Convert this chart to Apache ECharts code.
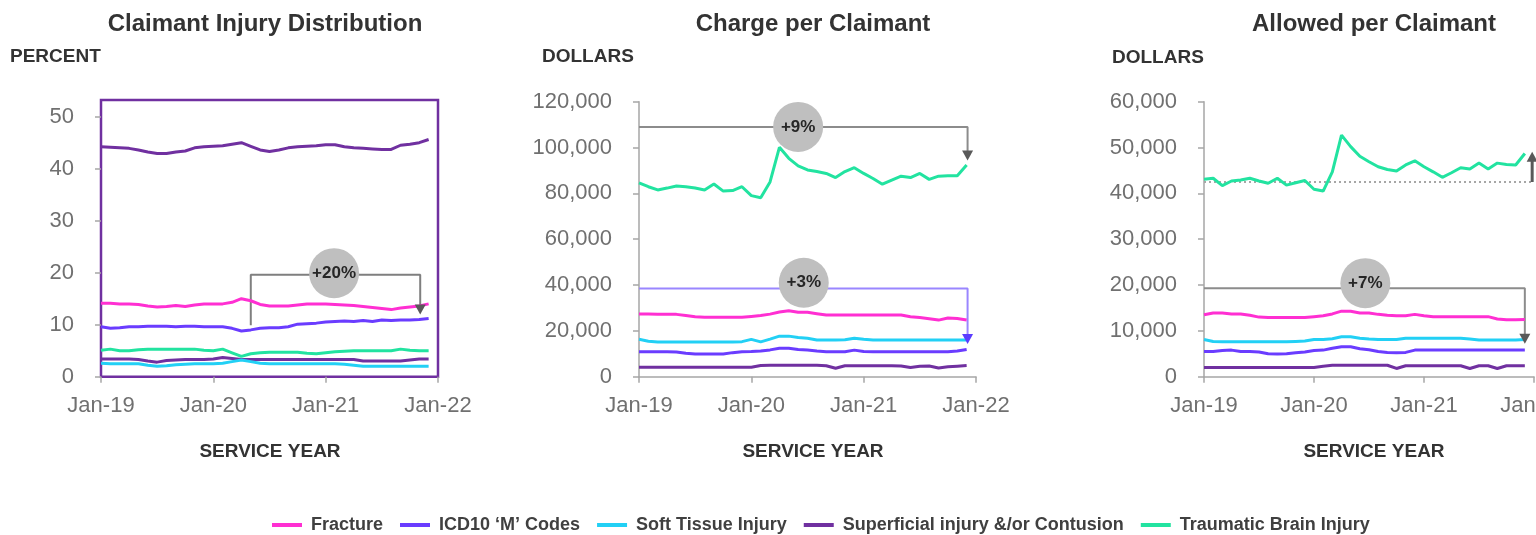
<!DOCTYPE html>
<html>
<head>
<meta charset="utf-8">
<script src="https://cdn.jsdelivr.net/npm/echarts@6/dist/echarts.min.js"></script>
<style>html,body{margin:0;padding:0;background:#fff;}#c{width:1536px;height:535px;}</style>
</head>
<body>
<div id="c"></div>
<script>
// ---- Data ----
const xTickLabels = ['Jan-19', 'Jan-20', 'Jan-21', 'Jan-22'];
const pctTicks = [0, 10, 20, 30, 40, 50];
const chargeTicks = [0, 20000, 40000, 60000, 80000, 100000, 120000];
const allowedTicks = [0, 10000, 20000, 30000, 40000, 50000, 60000];
const legendNames = ['Fracture', 'ICD10 \u2018M\u2019 Codes', 'Soft Tissue Injury', 'Superficial injury &/or Contusion', 'Traumatic Brain Injury'];

// Claimant Injury Distribution (percent), monthly Jan-19 .. Dec-21
const pctFracture = [14.1,14.1,14.0,14.0,13.9,13.6,13.4,13.5,13.7,13.5,13.8,14.0,14.0,14.0,14.3,15.0,14.6,13.9,13.6,13.6,13.6,13.8,14.0,14.0,14.0,13.9,13.8,13.7,13.5,13.3,13.1,12.9,13.2,13.4,13.6,14.0];
const pctIcd = [9.6,9.3,9.4,9.6,9.6,9.7,9.7,9.7,9.6,9.7,9.7,9.6,9.6,9.6,9.3,8.8,9.0,9.3,9.4,9.4,9.6,10.1,10.2,10.3,10.5,10.6,10.7,10.6,10.8,10.6,10.9,10.8,10.9,10.9,11.0,11.2];
const pctSoft = [2.6,2.5,2.5,2.5,2.5,2.2,2.0,2.1,2.3,2.4,2.5,2.5,2.5,2.6,2.9,3.2,2.9,2.6,2.5,2.5,2.5,2.5,2.5,2.5,2.5,2.5,2.4,2.2,2.0,2.0,2.0,2.0,2.0,2.0,2.0,2.0];
const pctSuperficial = [44.2,44.1,44.0,43.9,43.6,43.2,42.9,42.9,43.2,43.4,44.0,44.2,44.3,44.4,44.7,45.0,44.3,43.6,43.3,43.6,44.0,44.2,44.3,44.4,44.6,44.6,44.2,44.0,43.9,43.8,43.7,43.7,44.5,44.7,45.0,45.6];
const pctTbi = [5.1,5.3,5.0,5.0,5.2,5.3,5.3,5.3,5.3,5.3,5.3,5.1,5.0,5.3,4.6,3.9,4.4,4.6,4.7,4.7,4.7,4.7,4.5,4.4,4.6,4.8,4.9,5.0,5.0,5.0,5.0,5.0,5.3,5.1,5.0,5.0];
const pctOther = [3.4,3.4,3.4,3.4,3.3,3.0,2.8,3.1,3.2,3.3,3.3,3.3,3.4,3.7,3.5,3.3,3.3,3.3,3.3,3.3,3.3,3.3,3.3,3.3,3.3,3.3,3.3,3.3,3.0,3.0,3.0,3.0,3.0,3.2,3.4,3.4];

// Charge per Claimant (dollars)
const chgFracture = [27400,27400,27300,27300,27200,26700,26200,25900,25900,25900,25900,25900,26300,26700,27300,28200,28800,28100,28100,27500,26900,26900,26900,26900,26900,26900,26900,26900,26900,26200,25800,25300,24700,25600,25400,24700];
const chgIcd = [10900,10900,10900,10900,10800,10200,9900,9900,9900,9900,10500,10900,11000,11200,11700,12400,12400,11900,11600,11200,10900,10900,10900,11600,11000,10900,10900,10900,10900,10900,10900,10900,10900,10900,11200,11900];
const chgSoft = [16300,15500,15100,15100,15100,15100,15100,15100,15100,15100,15100,15300,16300,15200,16400,17700,17700,17100,16800,16000,16000,16000,16100,16800,16300,16000,16000,16000,16000,16000,16000,16000,16000,16000,16000,16000];
const chgSuperficial = [4100,4100,4100,4100,4100,4100,4100,4100,4100,4100,4100,4100,4100,4900,5000,5000,5000,5000,5000,5000,4800,3700,4800,4800,4800,4800,4800,4800,4700,4000,4600,4700,3800,4300,4600,4900];
const chgTbi = [84600,82900,81500,82300,83200,82900,82300,81500,84100,81000,81200,82900,79000,78100,85000,100100,95300,92000,90200,89500,88700,86900,89500,91200,88700,86500,84000,85800,87500,86900,88700,86100,87500,87700,87700,92400];

// Allowed per Claimant (dollars)
const alwFracture = [13500,13900,13900,13700,13700,13400,13000,12900,12900,12900,12900,12900,13100,13300,13700,14300,14300,13900,13900,13600,13400,13300,13300,13600,13300,13100,13100,13100,13100,13100,13100,13100,12600,12400,12400,12500];
const alwIcd = [5500,5500,5700,5800,5500,5500,5400,5000,4950,5000,5200,5400,5700,5800,6200,6550,6550,6100,5900,5500,5300,5200,5300,5800,5800,5800,5800,5800,5800,5800,5800,5800,5800,5800,5800,5800];
const alwSoft = [8100,7700,7600,7600,7600,7600,7600,7600,7600,7600,7700,7800,8100,8100,8300,8700,8700,8400,8200,8100,8100,8100,8400,8400,8400,8400,8400,8400,8400,8200,8000,8000,8000,8000,8000,8100];
const alwSuperficial = [2000,2000,2000,2000,2000,2000,2000,2000,2000,2000,2000,2000,2000,2300,2500,2500,2500,2500,2500,2500,2500,1800,2400,2400,2400,2400,2400,2400,2400,1800,2400,2400,1800,2400,2400,2400];
const alwTbi = [43100,43300,41700,42700,42900,43300,42700,42200,43300,41800,42300,42800,40900,40500,44700,52700,50200,48100,46900,45800,45200,44900,46200,47100,45800,44700,43500,44500,45600,45300,46600,45300,46600,46300,46200,48700];

// Annotations (data coordinates: [month index, value])
const pctBracket = [[16, 9.9], [16, 19.6], [34.1, 19.6], [34.1, 12.9]];
const pctBadge = [24.9, 19.9, '+20%'];
const chgBracketTop = [[0, 109000], [35.1, 109000], [35.1, 96500]];
const chgBadgeTop = [17.0, 109000, '+9%'];
const chgBracketLow = [[0, 38500], [35.1, 38500], [35.1, 16500]];
const chgBadgeLow = [17.6, 41000, '+3%'];
const alwBracket = [[0, 19300], [35.0, 19300], [35.0, 8300]];
const alwBadge = [17.6, 20400, '+7%'];
const alwBaseline = [[0, 42500], [36, 42500]];
const alwUpArrow = [[35.8, 42500], [35.8, 48000]];

// ---- Styling ----
const FONT = '"Liberation Sans", Arial, sans-serif';
const colors = {
  'Fracture': '#ff2fd2',
  'ICD10 \u2018M\u2019 Codes': '#6a3cff',
  'Soft Tissue Injury': '#22d0f5',
  'Superficial injury &/or Contusion': '#7030a0',
  'Traumatic Brain Injury': '#22e3a0'
};
const axisGray = '#a6a6a6';
const labelGray = '#707070';

function lineSeries(name, arr, k, color) {
  return {
    name: name, type: 'line', xAxisIndex: k, yAxisIndex: k,
    data: arr.map((v, i) => [i, v]),
    showSymbol: false, symbol: 'none', smooth: false,
    lineStyle: { color: color || colors[name], width: 3 },
    itemStyle: { color: color || colors[name] },
    emphasis: { disabled: true }, z: 3
  };
}
function bracketSeries(k, pts, color, arrowColor, up) {
  const tip = pts[pts.length - 1];
  return {
    type: 'line', xAxisIndex: k, yAxisIndex: k, data: pts,
    showSymbol: false, symbol: 'none', silent: true,
    lineStyle: { color: color, width: up ? 3 : 2 }, emphasis: { disabled: true }, z: 2,
    markPoint: {
      silent: true, symbol: 'triangle', symbolRotate: up ? 0 : 180, symbolSize: [11, 10],
      itemStyle: { color: arrowColor || color }, label: { show: false },
      data: [{ coord: tip }]
    }
  };
}
function badgeSeries(k, b) {
  return {
    type: 'scatter', xAxisIndex: k, yAxisIndex: k, data: [[b[0], b[1]]],
    symbol: 'circle', symbolSize: 50, silent: true, z: 6,
    itemStyle: { color: '#bfbfbf', opacity: 1 },
    label: { show: true, position: 'inside', formatter: b[2], fontFamily: FONT, fontSize: 17, fontWeight: 'bold', color: '#262626' },
    emphasis: { disabled: true }
  };
}
function xAxis(k, showLine) {
  return {
    gridIndex: k, type: 'value', min: 0, max: 36, interval: 12,
    axisLine: { show: showLine, lineStyle: { color: axisGray, width: 1.5 } },
    axisTick: { show: true, length: 6, lineStyle: { color: axisGray, width: 1.5 } },
    splitLine: { show: false },
    axisLabel: { formatter: v => xTickLabels[Math.round(v / 12)], color: labelGray, fontSize: 22, fontFamily: FONT, margin: 18 }
  };
}
function yAxis(k, ticks, showLine, extraMax) {
  const ax = {
    gridIndex: k, type: 'value', min: 0,
    axisLine: { show: showLine, lineStyle: { color: axisGray, width: 1.5 } },
    axisTick: { show: true, length: 6, lineStyle: { color: axisGray, width: 1.5 } },
    splitLine: { show: false },
    axisLabel: { color: labelGray, fontSize: 22, fontFamily: FONT, margin: 27,
      formatter: v => Number(v).toLocaleString('en-US') }
  };
  if (extraMax) {
    ax.max = extraMax;
    ax.axisTick.customValues = ticks;
    ax.axisLabel.customValues = ticks;
  } else {
    ax.max = ticks[ticks.length - 1];
    ax.interval = ticks[1] - ticks[0];
  }
  return ax;
}
function txt(text, x, y, size, align) {
  return { type: 'text', x: x, y: y, silent: true,
    style: { text: text, fill: '#333333', font: 'bold ' + size + 'px ' + FONT,
      align: align, verticalAlign: 'middle', textAlign: align, textVerticalAlign: 'middle' } };
}

const series = [
  // panel 1
  lineSeries('Superficial injury &/or Contusion', pctSuperficial, 0),
  lineSeries('Fracture', pctFracture, 0),
  lineSeries('ICD10 \u2018M\u2019 Codes', pctIcd, 0),
  lineSeries('Traumatic Brain Injury', pctTbi, 0),
  lineSeries('Other', pctOther, 0, '#7030a0'),
  lineSeries('Soft Tissue Injury', pctSoft, 0),
  bracketSeries(0, pctBracket, '#7f7f7f', '#595959'),
  badgeSeries(0, pctBadge),
  // panel 2
  lineSeries('Traumatic Brain Injury', chgTbi, 1),
  lineSeries('Fracture', chgFracture, 1),
  lineSeries('Soft Tissue Injury', chgSoft, 1),
  lineSeries('ICD10 \u2018M\u2019 Codes', chgIcd, 1),
  lineSeries('Superficial injury &/or Contusion', chgSuperficial, 1),
  bracketSeries(1, chgBracketTop, '#8c8c8c', '#595959'),
  badgeSeries(1, chgBadgeTop),
  bracketSeries(1, chgBracketLow, '#9a86ff', '#5b3cff'),
  badgeSeries(1, chgBadgeLow),
  // panel 3
  lineSeries('Traumatic Brain Injury', alwTbi, 2),
  lineSeries('Fracture', alwFracture, 2),
  lineSeries('Soft Tissue Injury', alwSoft, 2),
  lineSeries('ICD10 \u2018M\u2019 Codes', alwIcd, 2),
  lineSeries('Superficial injury &/or Contusion', alwSuperficial, 2),
  {
    type: 'line', xAxisIndex: 2, yAxisIndex: 2, data: alwBaseline, showSymbol: false, symbol: 'none', silent: true,
    lineStyle: { color: '#a6a6a6', width: 2, type: [2, 3] }, emphasis: { disabled: true }, z: 2
  },
  bracketSeries(2, alwUpArrow, '#595959', '#595959', true),
  bracketSeries(2, alwBracket, '#8c8c8c', '#595959'),
  badgeSeries(2, alwBadge)
];

const chart = echarts.init(document.getElementById('c'), null, { renderer: 'canvas' });
chart.setOption({
  animation: false,
  backgroundColor: '#ffffff',
  grid: [
    { left: 101, top: 100, width: 337, height: 276.7, show: true, borderColor: '#7030a0', borderWidth: 2.5, backgroundColor: 'transparent', outerBoundsMode: 'none', containLabel: false },
    { left: 639, top: 101.7, width: 337, height: 275, outerBoundsMode: 'none', containLabel: false },
    { left: 1204, top: 101.7, width: 330, height: 275, outerBoundsMode: 'none', containLabel: false }
  ],
  xAxis: [xAxis(0, false), xAxis(1, true), xAxis(2, true)],
  yAxis: [yAxis(0, pctTicks, false, 53.2), yAxis(1, chargeTicks, true), yAxis(2, allowedTicks, true)],
  legend: {
    data: legendNames, left: 267, top: 511, icon: 'rect', itemWidth: 30, itemHeight: 4, itemGap: 17,
    selectedMode: false,
    textStyle: { fontFamily: FONT, fontSize: 18, fontWeight: 'bold', color: '#404040', padding: [0, 0, 0, 4] }
  },
  graphic: [
    txt('Claimant Injury Distribution', 265, 24, 24, 'center'),
    txt('Charge per Claimant', 813, 24, 24, 'center'),
    txt('Allowed per Claimant', 1374, 24, 24, 'center'),
    txt('PERCENT', 10, 57, 19, 'left'),
    txt('DOLLARS', 542, 57, 19, 'left'),
    txt('DOLLARS', 1112, 58, 19, 'left'),
    txt('SERVICE YEAR', 270, 452, 19, 'center'),
    txt('SERVICE YEAR', 813, 452, 19, 'center'),
    txt('SERVICE YEAR', 1374, 452, 19, 'center')
  ],
  series: series
});
</script>
</body>
</html>
